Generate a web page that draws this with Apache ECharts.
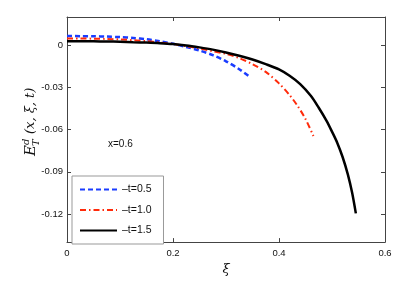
<!DOCTYPE html>
<html>
<head>
<meta charset="utf-8">
<script src="https://cdn.jsdelivr.net/npm/echarts@6/dist/echarts.min.js"></script>
<style>html,body{margin:0;padding:0;background:#fff}#c{width:409px;height:281px}</style>
</head>
<body>
<div id="c"></div>
<script>
var seriesNames = ['–t=0.5', '–t=1.0', '–t=1.5'];
var xiBlue = [0, 0.025, 0.05, 0.075, 0.1, 0.125, 0.15, 0.175, 0.2, 0.225, 0.25, 0.275, 0.3, 0.325, 0.345];
var valBlue = [0.0065, 0.0064, 0.0063, 0.0061, 0.0057, 0.0051, 0.0042, 0.0028, 0.001, -0.0013, -0.0038, -0.0071, -0.0115, -0.0171, -0.0225];
var xiRed = [0, 0.025, 0.05, 0.075, 0.1, 0.125, 0.15, 0.175, 0.2, 0.225, 0.25, 0.275, 0.3, 0.325, 0.35, 0.375, 0.4, 0.42, 0.435, 0.45, 0.465];
var valRed = [0.0047, 0.0047, 0.0046, 0.0044, 0.0041, 0.0035, 0.0028, 0.0019, 0.0008, -0.0007, -0.0024, -0.0043, -0.0062, -0.0092, -0.0135, -0.019, -0.0272, -0.0355, -0.0432, -0.0525, -0.0646];
var xiBlack = [0, 0.025, 0.05, 0.075, 0.1, 0.125, 0.15, 0.175, 0.2, 0.225, 0.25, 0.275, 0.3, 0.325, 0.35, 0.375, 0.4, 0.42, 0.44, 0.46, 0.475, 0.49, 0.5, 0.51, 0.52, 0.53, 0.538, 0.545];
var valBlack = [0.0028, 0.0028, 0.0027, 0.0026, 0.0024, 0.0021, 0.0018, 0.0014, 0.0008, -0.0002, -0.0016, -0.0032, -0.0052, -0.0075, -0.0102, -0.0135, -0.0173, -0.0218, -0.0277, -0.036, -0.0445, -0.054, -0.0615, -0.0695, -0.0795, -0.092, -0.105, -0.1196];
var yTicks = [-0.12, -0.09, -0.06, -0.03, 0];
var annotation = 'x=0.6';

function pairs(xs, ys) { return xs.map(function (x, i) { return [x, ys[i]]; }); }

var chart = echarts.init(document.getElementById('c'));
var axisCol = '#444';
var labelFont = { fontFamily: 'Liberation Sans, Arial, sans-serif', fontSize: 9.5, color: '#111' };
function xAx(pos, show) {
  return {
    type: 'value', position: pos, min: 0, max: 0.6, interval: 0.2,
    axisLine: { show: true, onZero: false, lineStyle: { color: axisCol, width: 1 } },
    axisTick: { show: true, inside: true, length: 4, lineStyle: { color: axisCol } },
    axisLabel: Object.assign({ show: show, margin: 6, formatter: function (v) { return String(+v.toFixed(1)); } }, labelFont),
    splitLine: { show: false },
    name: show ? 'ξ' : '', nameLocation: 'middle', nameGap: 20,
    nameTextStyle: { fontFamily: 'DejaVu Serif, serif', fontStyle: 'italic', fontSize: 13, color: '#111' }
  };
}
function yAx(pos, show) {
  return {
    type: 'value', position: pos, min: -0.14, max: 0.02,
    axisLine: { show: true, onZero: false, lineStyle: { color: axisCol, width: 1 } },
    axisTick: { show: true, inside: true, length: 4, customValues: yTicks, lineStyle: { color: axisCol } },
    axisLabel: Object.assign({ show: show, margin: 4, customValues: yTicks, formatter: function (v) { return v === 0 ? '0' : String(+v.toFixed(2)); } }, labelFont),
    splitLine: { show: false }
  };
}

chart.setOption({
  animation: false,
  grid: { left: 67, right: 24, top: 17, bottom: 36 },
  xAxis: [xAx('bottom', true), xAx('top', false)],
  yAxis: [yAx('left', true), yAx('right', false)],
  legend: {
    orient: 'vertical', left: 72, top: 176,
    padding: [8, 12, 8, 7], itemWidth: 37, itemHeight: 10, itemGap: 9.5,
    borderColor: '#999', borderWidth: 1, backgroundColor: '#fff',
    textStyle: { fontFamily: 'Liberation Sans, Arial, sans-serif', fontSize: 10.5, color: '#111' },
    itemStyle: { color: 'transparent', borderWidth: 0, opacity: 0 },
    data: seriesNames
  },
  series: [
    { name: seriesNames[0], type: 'line', data: pairs(xiBlue, valBlue), smooth: 0.3, symbol: 'none',
      lineStyle: { color: '#1a3cff', width: 2.5, type: [5, 3] }, itemStyle: { color: '#1a3cff' } },
    { name: seriesNames[1], type: 'line', data: pairs(xiRed, valRed), smooth: 0.3, symbol: 'none',
      lineStyle: { color: '#ff2a0a', width: 2, type: [6, 3, 1.5, 3] }, itemStyle: { color: '#ff2a0a' } },
    { name: seriesNames[2], type: 'line', data: pairs(xiBlack, valBlack), smooth: 0.3, symbol: 'none',
      lineStyle: { color: '#000', width: 2.5 }, itemStyle: { color: '#000' } }
  ],
  graphic: [
    { type: 'text', left: 108, top: 139, style: { text: annotation, font: '10px Liberation Sans, Arial, sans-serif', fill: '#111' } },
    { type: 'group', x: 31, y: 156, rotation: Math.PI / 2, children: [
      { type: 'text', x: 0, y: 0, style: { text: 'E', font: 'italic 15px DejaVu Serif, serif', fill: '#111', verticalAlign: 'middle' } },
      { type: 'text', x: 11, y: -5, style: { text: 'd', font: 'italic 10px DejaVu Serif, serif', fill: '#111', verticalAlign: 'middle' } },
      { type: 'text', x: 10, y: 5, style: { text: 'T', font: 'italic 10px DejaVu Serif, serif', fill: '#111', verticalAlign: 'middle' } },
      { type: 'text', x: 22, y: 0, style: { text: '(x, ξ, t)', font: 'italic 13px DejaVu Serif, serif', fill: '#111', verticalAlign: 'middle' } }
    ] }
  ]
});
</script>
</body>
</html>
